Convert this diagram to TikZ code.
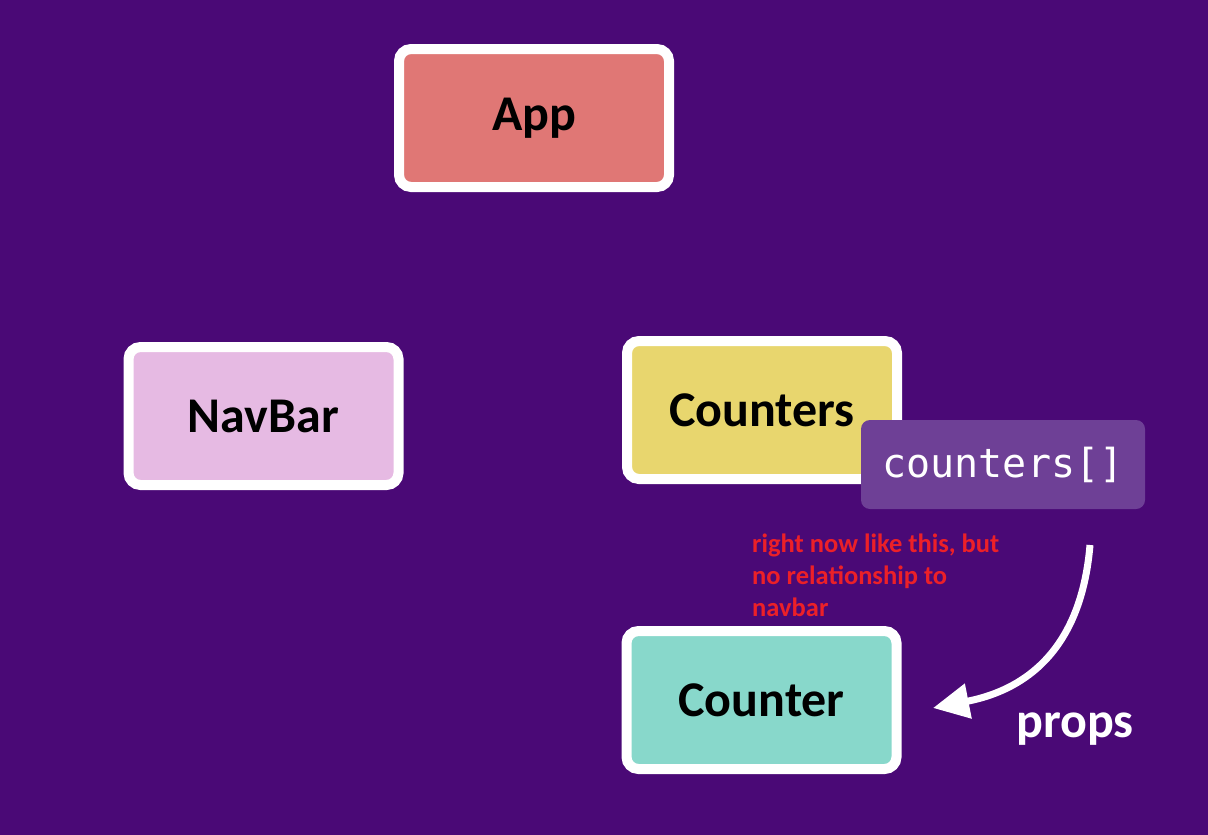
\documentclass[tikz,border=0pt]{standalone}
\usepackage{fontspec}
\setmainfont{Carlito}
\setmonofont{DejaVu Sans Mono}
\usetikzlibrary{arrows.meta}
\definecolor{bgpurple}{RGB}{74,9,118}
\definecolor{appred}{RGB}{224,119,117}
\definecolor{navpink}{RGB}{230,186,227}
\definecolor{cntyellow}{RGB}{232,214,110}
\definecolor{cntteal}{RGB}{136,216,203}
\definecolor{statepurple}{RGB}{110,64,150}
\definecolor{noteRed}{RGB}{236,32,40}
\tikzset{
  comp/.style={draw=white, line width=10pt, rounded corners=12pt,
    minimum width=270pt, minimum height=138pt, inner sep=0pt,
    font=\fontsize{50}{60}\selectfont\bfseries, text=black},
  statebox/.style={fill=statepurple, rounded corners=9pt,
    minimum width=284pt, minimum height=89pt, inner sep=0pt,
    font=\ttfamily\fontsize{40}{46}\selectfont, text=white},
  note/.style={anchor=north west, inner sep=0pt, align=left, text=noteRed,
    font=\fontsize{26.5}{32}\selectfont\bfseries},
  flow/.style={draw=white, line width=7pt,
    -{Triangle[length=36pt, width=34pt]}},
  label/.style={anchor=base west, inner sep=0pt, text=white,
    font=\fontsize{50}{60}\selectfont\bfseries}
}
\begin{document}
\begin{tikzpicture}[x=1pt, y=-1pt]
  % background
  \fill[bgpurple] (0,0) rectangle (1208,835);

  % components
  \node[comp, fill=appred]    (app)      at (534,118)   {App};
  \node[comp, fill=navpink]   (navbar)   at (263.5,416) {NavBar};
  \node[comp, fill=cntyellow] (counters) at (762,410)   {Counters};
  \node[comp, fill=cntteal]   (counter)  at (761.5,700) {Counter};

  % state held by Counters
  \node[statebox] (state) at (1003,464.5) {counters[]};

  % remark
  \node[note] (remark) at (752,534)
    {right now like this, but\\no relationship to\\navbar};

  % props passed down to Counter
  \coordinate (flowstart) at (1090,545);
  \coordinate (flowend)   at (933,708);
  \draw[flow] (flowstart) .. controls (1082,640) and (1035,688) .. (flowend);
  \node[label] (props) at (1016,737) {props};
\end{tikzpicture}
\end{document}
